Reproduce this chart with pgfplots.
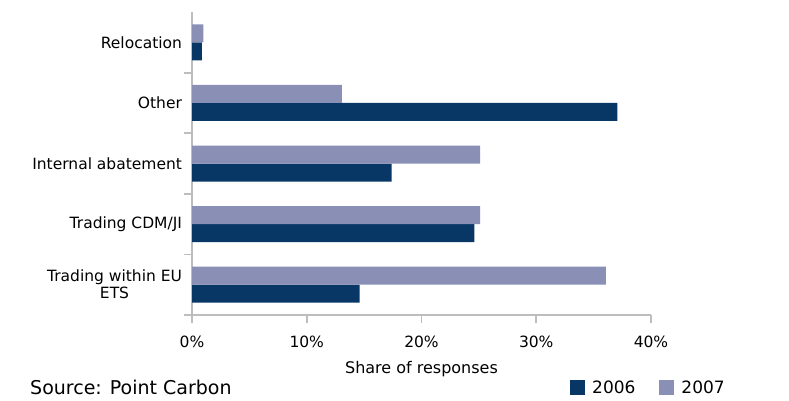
\documentclass[border=0pt]{standalone}
\usepackage{pgfplots}
\pgfplotsset{compat=1.18}
\usepackage{fontspec}
\setmainfont{DejaVu Sans}
\definecolor{c2006}{HTML}{083665}
\definecolor{c2007}{HTML}{8A8FB5}
\definecolor{axgray}{HTML}{BDBDBD}
\begin{document}
\begin{tikzpicture}
\useasboundingbox (0,0) rectangle (789pt,400pt);
\begin{axis}[
  at={(192pt,85pt)}, anchor=south west,
  scale only axis, width=459pt, height=303pt,
  xmin=0, xmax=40, ymin=-0.5, ymax=4.5,
  xbar, bar width=18pt,
  axis lines*=left,
  axis line style={axgray, line width=2.8pt},
  every tick/.style={axgray, line width=1.8pt},
  tick align=outside,
  major tick length=7.5pt,
  minor tick length=8pt,
  xtick={0,10,20,30,40},
  xticklabels={0\%,10\%,20\%,30\%,40\%},
  ytick={0,1,2,3,4},
  yticklabels={{Trading within EU\\ETS},{Trading CDM/JI},{Internal abatement},{Other},{Relocation}},
  minor ytick={-0.5,0.5,1.5,2.5,3.5},
  major y tick style={draw=none},
  minor y tick style={axgray, line width=1.8pt},
  y tick label style={align=center, font=\fontsize{15.5}{17}\selectfont, xshift=1pt},
  x tick label style={font=\fontsize{15.5}{17}\selectfont, yshift=-10pt},
  xlabel={Share of responses},
  xlabel style={font=\fontsize{16}{18}\selectfont, yshift=-7pt},
  legend style={at={(0.8235,-0.24)}, anchor=west, draw=none, fill=none, inner sep=0pt,
    font=\fontsize{17}{19}\selectfont, legend columns=2,
    /tikz/every odd column/.append style={column sep=5pt},
    /tikz/every even column/.append style={column sep=22pt}},
  legend image code/.code={\fill[#1] (0pt,-7.5pt) rectangle (15pt,7.5pt);},
  clip=false,
]
\addplot[draw=none, fill=c2006, bar shift=-9pt] coordinates {(14.6,0) (24.6,1) (17.4,2) (37.07,3) (0.85,4)};
\addplot[draw=none, fill=c2007, bar shift=9pt] coordinates {(36.06,0) (25.1,1) (25.1,2) (13.07,3) (1.0,4)};
\legend{2006,2007}
\end{axis}
\node[anchor=west, inner sep=0pt, font=\fontsize{19}{21}\selectfont] at (30pt,12.5pt) {Source: Point Carbon};
\end{tikzpicture}
\end{document}
